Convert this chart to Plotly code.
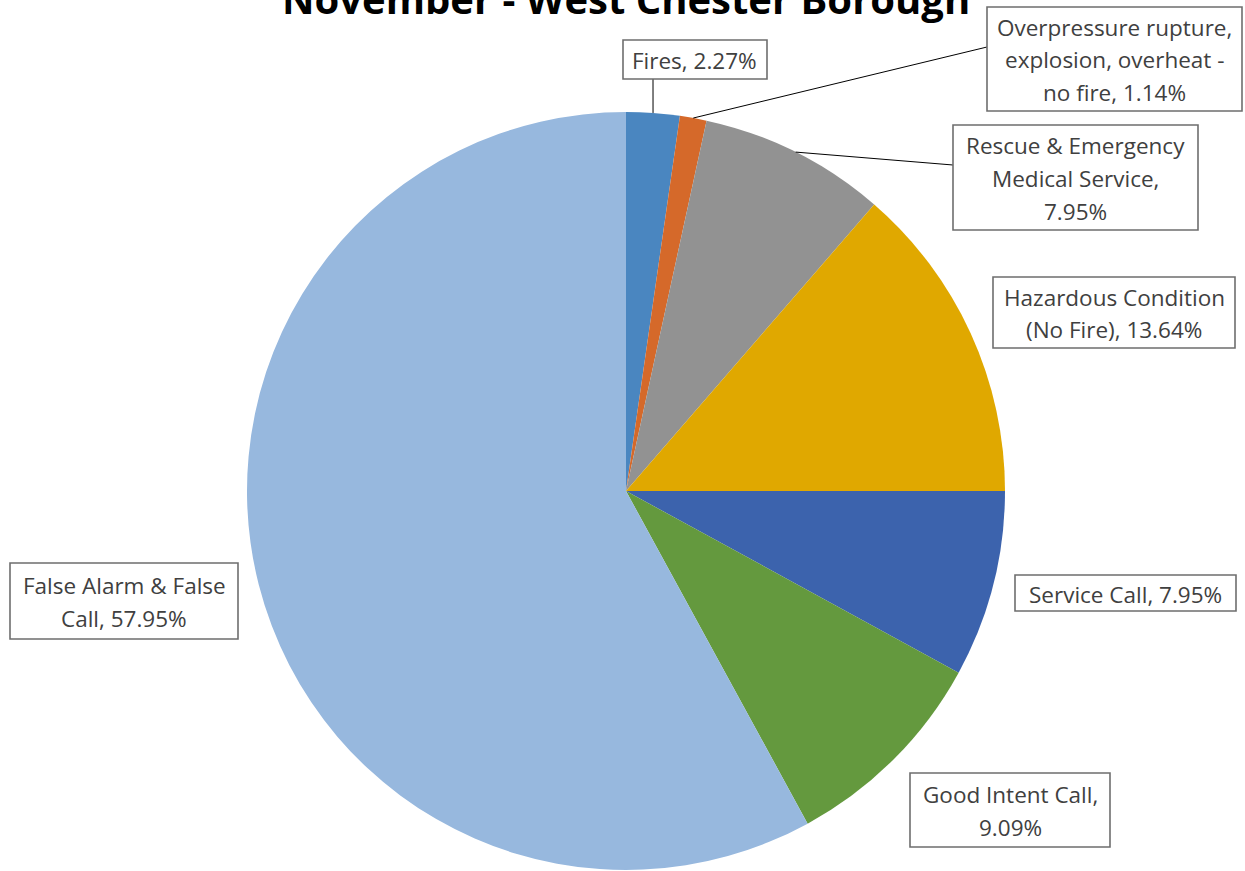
import math
import plotly.graph_objects as go

# ---------------- data ----------------
categories = [
    "Fires",
    "Overpressure rupture, explosion, overheat - no fire",
    "Rescue & Emergency Medical Service",
    "Hazardous Condition (No Fire)",
    "Service Call",
    "Good Intent Call",
    "False Alarm & False Call",
]
counts = [2, 1, 7, 12, 7, 8, 51]
slice_colors = ["#4A86C0", "#D5692A", "#929292", "#E0A800", "#3C63AD", "#64993E", "#97B8DE"]
# label text lines (percent appended to last line)
label_lines = [
    ["Fires, "],
    ["Overpressure rupture,", "explosion, overheat -", "no fire, "],
    ["Rescue & Emergency", "Medical Service,", ""],
    ["Hazardous Condition", "(No Fire), "],
    ["Service Call, "],
    ["Good Intent Call,", ""],
    ["False Alarm & False", "Call, "],
]
title_text = "November - West Chester Borough"

# ---------------- layout geometry (pixels) ----------------
W, H = 1245, 871
CX, CY, R = 626, 491, 379
# label boxes: x0, y0, x1, y1 (pixels)
boxes = [
    (623, 40, 767, 79),
    (987, 7, 1242, 111),
    (953, 125, 1198, 230),
    (993, 277, 1235, 348),
    (1015, 575, 1236, 611),
    (910, 773, 1110, 847),
    (10, 563, 238, 639),
]
# leader line box-end points (pixels), None = no leader
leader_ends = [(653, 79), (987, 47), (953, 165), None, None, None, None]

def px(x):
    return x / W

def py(y):
    return 1 - y / H

total = sum(counts)
pcts = [c / total * 100 for c in counts]

fig = go.Figure()
fig.add_trace(go.Pie(
    values=counts,
    labels=categories,
    sort=False,
    direction="clockwise",
    rotation=0,
    marker=dict(colors=slice_colors, line=dict(width=0)),
    textinfo="none",
    hoverinfo="label+percent",
    showlegend=False,
    domain=dict(x=[px(CX - R), px(CX + R)], y=[py(CY + R), py(CY - R)]),
))

LABEL_FONT = dict(family="Open Sans", size=22.5, color="#404040")

shapes = []
annotations = []
cum = 0
line_gap = 32.5
for i, c in enumerate(counts):
    mid = (cum + c / 2) / total * 2 * math.pi
    cum += c
    rx = CX + R * math.sin(mid)
    ry = CY - R * math.cos(mid)
    if leader_ends[i] is not None:
        ex, ey = leader_ends[i]
        shapes.append(dict(type="line", xref="paper", yref="paper",
                           x0=px(rx), y0=py(ry), x1=px(ex), y1=py(ey),
                           line=dict(color="#000000", width=1)))
    x0, y0, x1, y1 = boxes[i]
    shapes.append(dict(type="rect", xref="paper", yref="paper",
                       x0=px(x0), y0=py(y0), x1=px(x1), y1=py(y1),
                       fillcolor="white", line=dict(color="#6E6E6E", width=1.6)))
    lines = list(label_lines[i])
    lines[-1] = lines[-1] + f"{pcts[i]:.2f}%"
    n = len(lines)
    bcx = (x0 + x1) / 2
    bcy = (y0 + y1) / 2
    for j, t in enumerate(lines):
        ly = bcy + (j - (n - 1) / 2) * line_gap + 1
        annotations.append(dict(xref="paper", yref="paper", x=px(bcx), y=py(ly),
                                text=t, showarrow=False, xanchor="center", yanchor="middle",
                                font=LABEL_FONT))

annotations.append(dict(xref="paper", yref="paper", x=px(626), y=py(-1),
                        text=f"<b>{title_text}</b>", showarrow=False,
                        xanchor="center", yanchor="middle",
                        font=dict(family="Open Sans", size=40, color="#000000")))

fig.update_layout(
    width=W, height=H,
    margin=dict(l=0, r=0, t=0, b=0),
    paper_bgcolor="white",
    plot_bgcolor="white",
    shapes=shapes,
    annotations=annotations,
)

fig.write_html("out.html", config={"displayModeBar": False},
               post_script="document.body.style.margin='0';")
